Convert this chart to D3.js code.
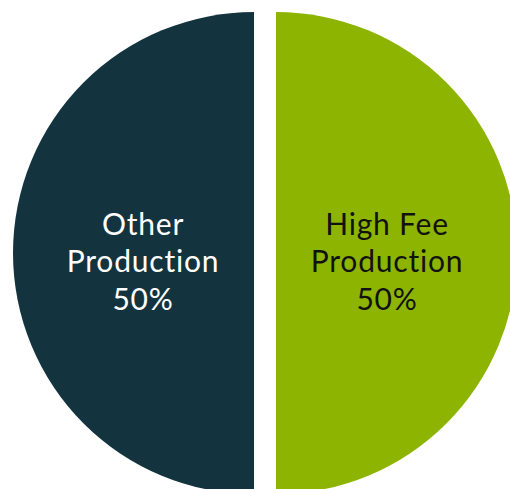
<!DOCTYPE html>
<html>
<head>
<meta charset="utf-8">
<script src="https://cdn.jsdelivr.net/npm/d3@7"></script>
<style>
  html, body { margin: 0; padding: 0; background: #ffffff; overflow: hidden; }
  svg { display: block; }
  .slice-label {
      font-family: Lato, "Open Sans", sans-serif;
      font-size: 30px;
      letter-spacing: 0.8px;
      font-variant-ligatures: none;
  }
</style>
</head>
<body>
<div id="chart"></div>
<script>

// Data
let categories = ["High Fee Production", "Other Production"];
let labelLines = [["High Fee", "Production"], ["Other", "Production"]];
let shares = [50, 50];
let sliceColours = ["#8db400", "#13343f"];
let labelColours = ["#111111", "#ffffff"];

let pieChart = {
    width : 510,
    height : 489,
    cx : 265,
    cy : 253,
    radius : 241,
    explode : 11,
    labelRadius : 111,
    lineHeight : 37.5
};

let svg = d3.select("#chart")
    .append("svg")
    .attr("width", pieChart.width)
    .attr("height", pieChart.height);

let g = svg.append("g")
    .attr("transform", "translate(" + pieChart.cx + "," + pieChart.cy + ")");

let data = categories.map(function (c, i) {
    return {name: c, value: shares[i], lines: labelLines[i], i: i};
});

let pie = d3.pie()
    .sort(null)
    .value(function (d) { return d.value });

let arc = d3.arc()
    .innerRadius(0)
    .outerRadius(pieChart.radius);

let labelArc = d3.arc()
    .innerRadius(pieChart.labelRadius)
    .outerRadius(pieChart.labelRadius);

// Offset each slice outwards along its mid angle
function offset(d) {
    let mid = (d.startAngle + d.endAngle) / 2;
    return [Math.sin(mid) * pieChart.explode, -Math.cos(mid) * pieChart.explode];
}

let slices = g.selectAll(".slice")
    .data(pie(data))
    .enter()
    .append("g")
    .attr("class", "slice")
    .attr("transform", function (d) {
        let o = offset(d);
        return "translate(" + o[0] + "," + o[1] + ")";
    });

slices.append("path")
    .attr("d", arc)
    .style("fill", function (d) { return sliceColours[d.data.i] });

// Labels: name lines plus percentage
slices.each(function (d) {
    let c = labelArc.centroid(d);
    let lines = d.data.lines.concat([d.data.value + "%"]);
    let text = d3.select(this).append("text")
        .attr("class", "slice-label")
        .attr("text-anchor", "middle")
        .style("fill", labelColours[d.data.i]);

    lines.forEach(function (line, k) {
        text.append("tspan")
            .attr("x", c[0])
            .attr("y", c[1] + (k - 1) * pieChart.lineHeight + 19)
            .text(line);
    });
});

</script>
</body>
</html>
